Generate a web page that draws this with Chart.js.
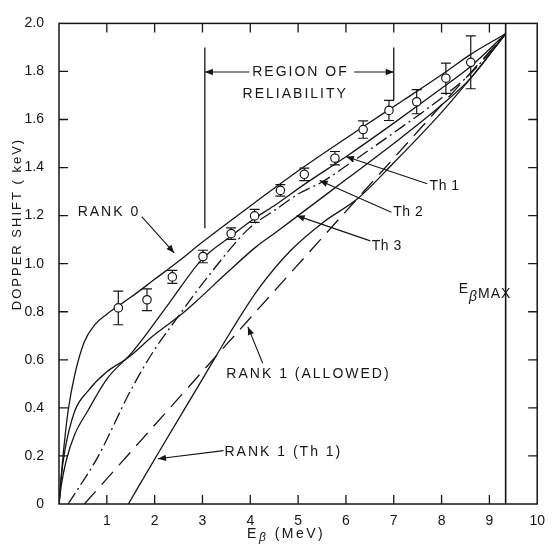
<!DOCTYPE html>
<html><head><meta charset="utf-8">
<script src="https://cdn.jsdelivr.net/npm/chart.js@4/dist/chart.umd.min.js"></script>
<style>html,body{margin:0;padding:0;background:#fff}#wrap{width:554px;height:548px}</style>
</head><body><div id="wrap"><canvas id="c" width="554" height="548"></canvas></div>
<script>
// ---- tick labels ----
const xTickLabels = ['', '1', '2', '3', '4', '5', '6', '7', '8', '9', '10'];
const yTickLabels = ['0', '0.2', '0.4', '0.6', '0.8', '1.0', '1.2', '1.4', '1.6', '1.8', '2.0'];

// ---- measured points (E_beta MeV, Doppler shift keV, error) ----
const expX   = [1.24, 1.84, 2.37, 3.01, 3.60, 4.09, 4.63, 5.13, 5.77, 6.36, 6.90, 7.48, 8.09, 8.61];
const expY   = [0.816, 0.850, 0.945, 1.030, 1.125, 1.199, 1.305, 1.372, 1.439, 1.558, 1.638, 1.674, 1.772, 1.838];
const expErr = [0.070, 0.045, 0.027, 0.026, 0.024, 0.027, 0.024, 0.026, 0.028, 0.036, 0.042, 0.050, 0.063, 0.110];

// ---- theoretical curves ----
const rank0X = [0, 0.03, 0.08, 0.19, 0.33, 0.53, 0.74, 1.0, 1.5, 2.0, 2.5, 3.0, 4.1, 5.1, 6.4, 7.2, 8.1, 8.6, 9.34];
const rank0Y = [0, 0.07, 0.19, 0.387, 0.538, 0.675, 0.744, 0.79, 0.86, 0.935, 1.01, 1.09, 1.255, 1.40, 1.575, 1.68, 1.80, 1.87, 1.957];

const th1X = [0, 0.05, 0.15, 0.33, 0.6, 1.0, 1.5, 1.8, 2.3, 3.0, 3.6, 4.1, 4.53, 5.13, 6.0, 7.0, 8.0, 8.6, 9.34];
const th1Y = [0, 0.08, 0.18, 0.29, 0.387, 0.52, 0.625, 0.70, 0.835, 1.02, 1.115, 1.19, 1.245, 1.33, 1.445, 1.585, 1.73, 1.82, 1.957];

const th2X = [0.19, 0.81, 1.49, 1.97, 2.51, 3.09, 3.98, 4.53, 5.0, 5.5, 6.1, 7.0, 8.0, 8.6, 9.34];
const th2Y = [0, 0.195, 0.469, 0.634, 0.785, 0.94, 1.148, 1.225, 1.29, 1.34, 1.42, 1.545, 1.69, 1.79, 1.957];

const th3X = [0, 0.04, 0.12, 0.33, 0.6, 1.0, 1.45, 1.97, 2.5, 2.85, 3.5, 4.12, 4.53, 5.0, 6.0, 7.0, 8.0, 8.6, 9.34];
const th3Y = [0, 0.10, 0.22, 0.387, 0.469, 0.55, 0.61, 0.70, 0.78, 0.84, 0.96, 1.07, 1.13, 1.20, 1.35, 1.50, 1.66, 1.77, 1.957];

const rank1AllowedX = [0.53, 3.98, 9.34];
const rank1AllowedY = [0, 0.77, 1.957];

const rank1Th1X = [1.45, 2.07, 3.0, 3.6, 4.19, 4.87, 5.55, 6.24, 7.0, 8.0, 8.6, 9.34];
const rank1Th1Y = [0, 0.21, 0.52, 0.72, 0.90, 1.06, 1.176, 1.27, 1.42, 1.63, 1.77, 1.957];

// ---- reference markers (MeV) ----
const regionStart = 3.05;
const regionEnd = 7.0;
const eBetaMax = 9.34;

const pts = (xs, ys) => xs.map((v, i) => ({x: v, y: ys[i]}));
const INK = '#161616';
const FONT = '"Liberation Sans", Arial, sans-serif';

function curve(label, xs, ys, dash) {
  return {
    label, data: pts(xs, ys), showLine: true, pointRadius: 0, borderColor: INK,
    borderWidth: 1.3, borderDash: dash || [], cubicInterpolationMode: 'monotone', fill: false
  };
}

function arrow(ctx, x1, y1, x2, y2) {
  ctx.beginPath(); ctx.moveTo(x1, y1); ctx.lineTo(x2, y2); ctx.stroke();
  const a = Math.atan2(y2 - y1, x2 - x1), L = 8, W = 3.2;
  ctx.beginPath();
  ctx.moveTo(x2, y2);
  ctx.lineTo(x2 - L * Math.cos(a) + W * Math.sin(a), y2 - L * Math.sin(a) - W * Math.cos(a));
  ctx.lineTo(x2 - L * Math.cos(a) - W * Math.sin(a), y2 - L * Math.sin(a) + W * Math.cos(a));
  ctx.closePath(); ctx.fill();
}

const decor = {
  id: 'decor',
  beforeDatasetsDraw(chart) {
    const {ctx, scales: {x, y}} = chart;
    ctx.save();
    ctx.strokeStyle = INK; ctx.lineWidth = 1.2;
    expX.forEach((v, i) => {
      const px = x.getPixelForValue(v);
      const y1 = y.getPixelForValue(expY[i] + expErr[i]);
      const y2 = y.getPixelForValue(expY[i] - expErr[i]);
      ctx.beginPath();
      ctx.moveTo(px, y1); ctx.lineTo(px, y2);
      ctx.moveTo(px - 5, y1); ctx.lineTo(px + 5, y1);
      ctx.moveTo(px - 5, y2); ctx.lineTo(px + 5, y2);
      ctx.stroke();
    });
    ctx.restore();
  },
  afterDraw(chart) {
    const {ctx, chartArea: {left, right, top, bottom}, scales: {x, y}} = chart;
    const X = v => x.getPixelForValue(v), Y = v => y.getPixelForValue(v);
    ctx.save();
    ctx.strokeStyle = INK; ctx.fillStyle = INK; ctx.lineWidth = 1.5;
    ctx.strokeRect(left, top, right - left, bottom - top);
    ctx.lineWidth = 1.3;
    ctx.beginPath();
    for (let v = 1; v <= 9; v++) {
      ctx.moveTo(X(v), bottom); ctx.lineTo(X(v), bottom - 9);
      ctx.moveTo(X(v), top); ctx.lineTo(X(v), top + 9);
    }
    for (let k = 1; k <= 9; k++) {
      const v = k * 0.2;
      ctx.moveTo(left, Y(v)); ctx.lineTo(left + 9, Y(v));
      ctx.moveTo(right, Y(v)); ctx.lineTo(right - 9, Y(v));
    }
    ctx.stroke();

    // vertical reference lines
    ctx.lineWidth = 1.3;
    ctx.beginPath();
    ctx.moveTo(X(regionStart), Y(1.9)); ctx.lineTo(X(regionStart), Y(1.148));
    ctx.moveTo(X(regionEnd), Y(1.9)); ctx.lineTo(X(regionEnd), Y(1.68));
    ctx.stroke();
    ctx.lineWidth = 1.6;
    ctx.beginPath();
    ctx.moveTo(X(eBetaMax), top); ctx.lineTo(X(eBetaMax), bottom);
    ctx.stroke();

    // arrows
    ctx.lineWidth = 1.1;
    arrow(ctx, X(3.98), Y(1.798), X(regionStart), Y(1.798));
    arrow(ctx, X(6.17), Y(1.798), X(regionEnd), Y(1.798));
    arrow(ctx, X(1.73), Y(1.196), X(2.41), Y(1.045));
    arrow(ctx, X(7.70), Y(1.333), X(6.0), Y(1.446));
    arrow(ctx, X(6.95), Y(1.214), X(5.45), Y(1.346));
    arrow(ctx, X(6.51), Y(1.095), X(4.97), Y(1.2));
    arrow(ctx, X(4.26), Y(0.586), X(3.95), Y(0.737));
    arrow(ctx, X(3.44), Y(0.222), X(2.07), Y(0.188));

    // labels
    ctx.font = '14px ' + FONT;
    ctx.textBaseline = 'middle';
    ctx.letterSpacing = '2px';
    ctx.textAlign = 'center';
    ctx.fillText('REGION OF', X(5.05), Y(1.798));
    ctx.fillText('RELIABILITY', X(4.94), Y(1.704));
    ctx.textAlign = 'left';
    ctx.fillText('RANK 0', X(0.39), Y(1.214));
    ctx.fillText('RANK 1 (ALLOWED)', X(3.5), Y(0.539));
    ctx.fillText('RANK 1 (Th 1)', X(3.46), Y(0.214));
    ctx.letterSpacing = '0.5px';
    ctx.fillText('Th 1', X(7.75), Y(1.321));
    ctx.fillText('Th 2', X(6.99), Y(1.214));
    ctx.fillText('Th 3', X(6.54), Y(1.074));
    // E beta max
    ctx.letterSpacing = '1px';
    ctx.font = '14px ' + FONT;
    ctx.fillText('E', X(8.36), Y(0.893));
    const ew = ctx.measureText('E').width;
    ctx.font = 'italic 14px ' + FONT;
    ctx.fillText('\u03B2', X(8.36) + ew, Y(0.86));
    const bw = ctx.measureText('\u03B2').width;
    ctx.font = '14px ' + FONT;
    ctx.fillText('MAX', X(8.36) + ew + bw, Y(0.872));

    // x title
    ctx.font = '14px ' + FONT;
    ctx.letterSpacing = '2.5px';
    const t1 = 'E', t3 = ' (MeV)';
    const w1 = ctx.measureText(t1).width, w3 = ctx.measureText(t3).width;
    ctx.font = 'italic 12px ' + FONT;
    const w2 = ctx.measureText('\u03B2').width;
    let sx = X(4.75) - (w1 + w2 + w3) / 2;
    const ty = 534;
    ctx.font = '14px ' + FONT;
    ctx.fillText(t1, sx, ty);
    ctx.font = 'italic 12px ' + FONT;
    ctx.fillText('\u03B2', sx + w1, ty + 4);
    ctx.font = '14px ' + FONT;
    ctx.fillText(t3, sx + w1 + w2, ty);

    // y title
    ctx.save();
    ctx.translate(17, 224);
    ctx.rotate(-Math.PI / 2);
    ctx.textAlign = 'center';
    ctx.letterSpacing = '2px';
    ctx.font = '13px ' + FONT;
    ctx.fillText('DOPPER SHIFT ( keV)', 0, 0);
    ctx.restore();
    ctx.restore();
  }
};

new Chart(document.getElementById('c'), {
  type: 'scatter',
  data: {
    datasets: [
      {label: 'Measured', data: pts(expX, expY), pointRadius: 4.2, pointBackgroundColor: '#fff',
       pointBorderColor: INK, pointBorderWidth: 1.2, showLine: false},
      curve('Rank 0', rank0X, rank0Y),
      curve('Th 1', th1X, th1Y),
      curve('Th 2', th2X, th2Y, [13, 4, 2, 4]),
      curve('Th 3', th3X, th3Y),
      curve('Rank 1 (Allowed)', rank1AllowedX, rank1AllowedY, [17, 9]),
      curve('Rank 1 (Th 1)', rank1Th1X, rank1Th1Y)
    ]
  },
  options: {
    responsive: false, animation: false, devicePixelRatio: 1,
    layout: {padding: {top: 19, right: 7, left: 0, bottom: 0}},
    plugins: {legend: {display: false}, tooltip: {enabled: false}},
    scales: {
      x: {
        type: 'linear', min: 0, max: 10,
        afterFit: s => { s.height = 44; },
        grid: {display: false, drawTicks: false}, border: {display: false},
        ticks: {stepSize: 1, padding: 9, color: INK, font: {size: 14, family: FONT},
                maxRotation: 0, autoSkip: false, callback: (v, i) => xTickLabels[i]}
      },
      y: {
        min: 0, max: 2,
        afterFit: s => { s.width = 59; },
        grid: {display: false, drawTicks: false}, border: {display: false},
        ticks: {stepSize: 0.2, padding: 15, color: INK, font: {size: 14, family: FONT},
                autoSkip: false, callback: (v, i) => yTickLabels[i]}
      }
    }
  },
  plugins: [decor]
});
</script></body></html>
